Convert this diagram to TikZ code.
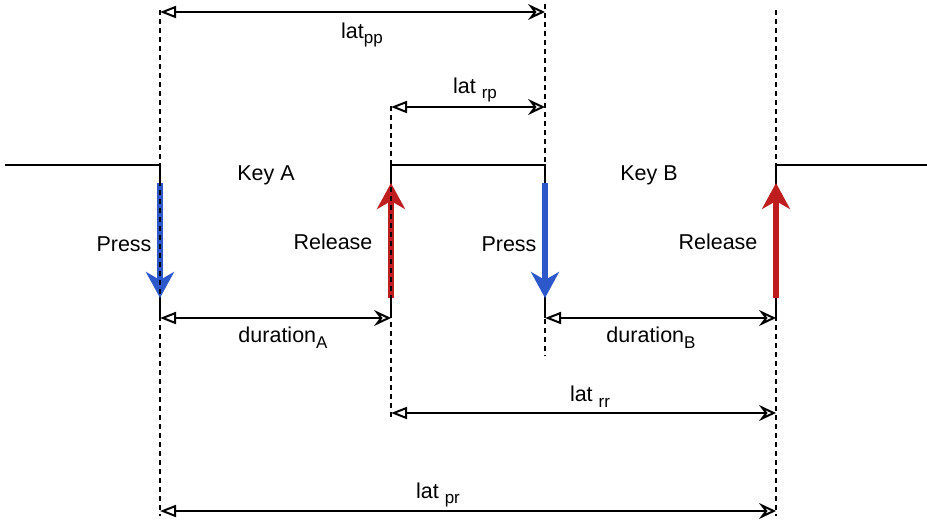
\documentclass[tikz,border=0pt]{standalone}
\usepackage{fontspec}
\setmainfont{Liberation Sans}
\usetikzlibrary{arrows.meta}
\definecolor{pressblue}{RGB}{44,88,204}
\definecolor{releasered}{RGB}{190,30,30}
% lowered subscript in the running text face
\newcommand\lowsub[1]{\raisebox{-0.5ex}{\fontsize{17}{18}\selectfont #1}}
\begin{document}
\begin{tikzpicture}[x=1pt,y=-1pt,
  guide/.style={line width=2pt,dash pattern=on 5pt off 4pt},
  level/.style={line width=2pt},
  span/.style={line width=2pt,{Triangle[open,length=16pt,width=12pt,line width=2pt]}-{Stealth[open,length=17pt,width=16pt,inset=6pt,line width=2pt]}},
  keyarrow/.style={line width=5.5pt,-{Stealth[length=26pt,width=28pt,inset=8pt]}},
  lbl/.style={font=\fontsize{21.5}{23}\selectfont,inner sep=1pt},
  spanlbl/.style={lbl,fill=white}
]
\useasboundingbox (0,0) rectangle (927,520);

% edge positions
\coordinate (pA0) at (160,10);   \coordinate (pA1) at (160,516);
\coordinate (rA0) at (391,106);  \coordinate (rA1) at (391,418);
\coordinate (pB0) at (545,4);    \coordinate (pB1) at (545,356);
\coordinate (rB0) at (776,10);   \coordinate (rB1) at (776,516);

% signal levels
\coordinate (in)  at (5,165);
\coordinate (aH)  at (160,165);  \coordinate (aL)  at (160,318);
\coordinate (bL)  at (391,318);  \coordinate (bH)  at (391,165);
\coordinate (cH)  at (545,165);  \coordinate (cL)  at (545,318);
\coordinate (dL)  at (776,318);  \coordinate (dH)  at (776,165);
\coordinate (out) at (927,165);

% guides behind key B
\draw[guide] (pB0) -- (pB1);
\draw[guide] (rB0) -- (rB1);

% signal trace
\draw[level] (in) -- (aH) -- (aL);
\draw[level] (bL) -- (bH) -- (cH) -- (cL);
\draw[level] (dL) -- (dH) -- (out);

% press / release arrows
\coordinate (k1t) at (160,183); \coordinate (k1b) at (160,298);
\coordinate (k2t) at (391,183); \coordinate (k2b) at (391,298);
\coordinate (k3t) at (545,183); \coordinate (k3b) at (545,298);
\coordinate (k4t) at (776,183); \coordinate (k4b) at (776,298);
\draw[keyarrow,pressblue] (k1t) -- (k1b);
\draw[keyarrow,releasered] (k2b) -- (k2t);
\draw[keyarrow,pressblue] (k3t) -- (k3b);
\draw[keyarrow,releasered] (k4b) -- (k4t);

% guides in front of key A
\draw[guide] (pA0) -- (pA1);
\draw[guide] (rA0) -- (rA1);

% spans
\coordinate (pp0) at (160,12);  \coordinate (pp1) at (545,12);
\coordinate (rp0) at (391,107); \coordinate (rp1) at (545,107);
\coordinate (rr0) at (391,413); \coordinate (rr1) at (776,413);
\coordinate (pr0) at (160,511); \coordinate (pr1) at (776,511);
\draw[span] (pp0) -- (pp1);
\draw[span] (rp0) -- (rp1);
\draw[span] (aL) -- (bL);
\draw[span] (cL) -- (dL);
\draw[span] (rr0) -- (rr1);
\draw[span] (pr0) -- (pr1);

% labels
\node[lbl] (tpp) at (362,35) {lat\lowsub{pp}};
\node[lbl] (trp) at (475,90) {lat \lowsub{rp}};
\node[lbl] (tda) at (283,338) {duration\lowsub{A}};
\node[lbl] (tdb) at (651,338) {duration\lowsub{B}};
\node[spanlbl,inner sep=0pt] (trr) at (590,397) {lat \lowsub{rr}};
\node[spanlbl,inner sep=0pt] (tpr) at (438,495) {lat \lowsub{pr}};

\node[lbl] (ka) at (266,175) {Key A};
\node[lbl] (kb) at (649,175) {Key B};
\node[lbl] (p1) at (124,244) {Press};
\node[lbl] (r1) at (333,242) {Release};
\node[lbl] (p2) at (509,244) {Press};
\node[lbl] (r2) at (718,242) {Release};
\end{tikzpicture}
\end{document}
